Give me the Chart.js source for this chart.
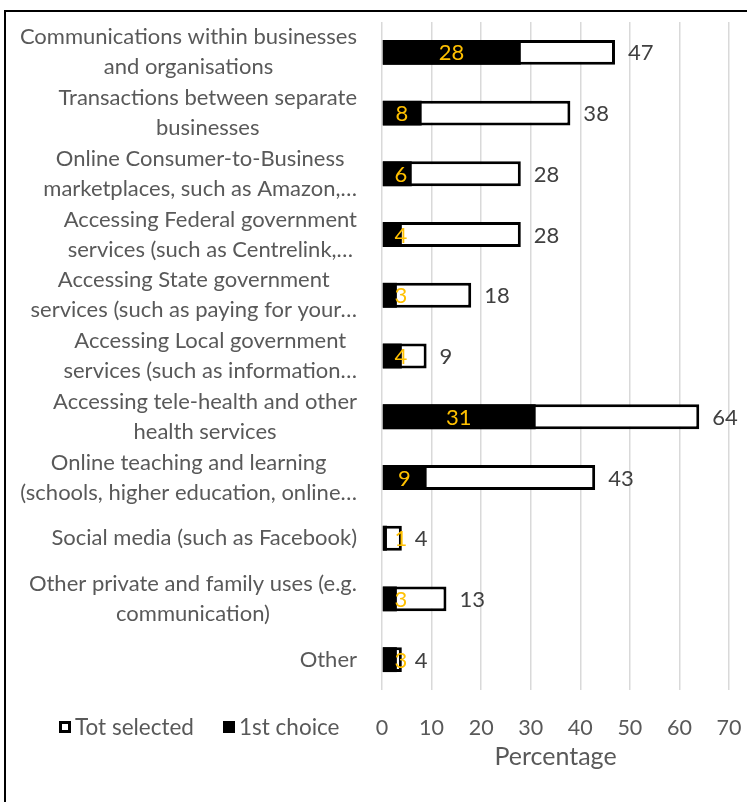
<!DOCTYPE html>
<html lang="en">
<head>
  <meta charset="UTF-8">
  <title>Uses by sector</title>
  <script src="https://cdn.jsdelivr.net/npm/chart.js"></script>
  <style>
    html, body { margin: 0; padding: 0; background: #fff; overflow: hidden; }
    #wrap { position: relative; width: 747px; height: 802px; overflow: hidden; }
    #frame { position: absolute; left: 4px; top: 10px; width: 800px; height: 850px; border: 2px solid #000; box-sizing: border-box; pointer-events: none; }
    canvas { position: absolute; left: 0; top: 0; }
  </style>
</head>
<body>
  <div id="wrap">
    <canvas id="chart" width="747" height="802"></canvas>
    <div id="frame"></div>
  </div>

  <script>
    // Category labels, already broken into the lines they show on
    const categories = [
      ['Communications within businesses', 'and organisations'],
      ['Transactions between separate', 'businesses'],
      ['Online Consumer-to-Business', 'marketplaces, such as Amazon,\u2026'],
      ['Accessing Federal government', 'services (such as Centrelink,\u2026'],
      ['Accessing State government', 'services (such as paying for your\u2026'],
      ['Accessing Local government', 'services (such as information\u2026'],
      ['Accessing tele-health and other', 'health services'],
      ['Online teaching and learning', '(schools, higher education, online\u2026'],
      ['Social media (such as Facebook)'],
      ['Other private and family uses (e.g.', 'communication)'],
      ['Other']
    ];
    const totSelected = [47, 38, 28, 28, 18, 9, 64, 43, 4, 13, 4];
    const firstChoice = [28, 8, 6, 4, 3, 4, 31, 9, 1, 3, 3];
    const xTicks = [0, 10, 20, 30, 40, 50, 60, 70];

    const FONT = 'Lato, "Open Sans", sans-serif';
    const GREY = '#595959';

    // category names: block sits against the axis, lines centred inside the block
    const categoryLabels = {
      id: 'categoryLabels',
      afterDraw(chart) {
        const ctx = chart.ctx;
        const y = chart.scales.y;
        const right = y.right - 25;
        const lineH = 30;
        ctx.save();
        ctx.font = '22px ' + FONT;
        ctx.fillStyle = GREY;
        ctx.textAlign = 'center';
        ctx.textBaseline = 'middle';
        categories.forEach((lines, i) => {
          const cy = y.getPixelForValue(i);
          const w = Math.max(...lines.map(l => ctx.measureText(l).width));
          const cx = right - w / 2;
          const top = cy - (lines.length - 1) * lineH / 2;
          lines.forEach((l, k) => ctx.fillText(l, cx, top + k * lineH));
        });
        ctx.restore();
      }
    };

    // value labels: first choice inside the black bar, total just past the outline
    const valueLabels = {
      id: 'valueLabels',
      afterDatasetsDraw(chart) {
        const ctx = chart.ctx;
        const x0 = chart.scales.x.getPixelForValue(0);
        ctx.save();
        ctx.font = '22px ' + FONT;
        ctx.textBaseline = 'middle';
        chart.getDatasetMeta(1).data.forEach((bar, i) => {
          ctx.fillStyle = '#FFC000';
          ctx.textAlign = 'center';
          ctx.fillText(String(firstChoice[i]), Math.max((bar.x + x0) / 2, x0 + 19), bar.y + 1);
        });
        chart.getDatasetMeta(0).data.forEach((bar, i) => {
          ctx.fillStyle = '#404040';
          ctx.textAlign = 'left';
          ctx.fillText(String(totSelected[i]), bar.x + 13, bar.y + 1);
        });
        ctx.restore();
      }
    };

    // legend in the bottom-left corner, level with the tick labels
    const cornerLegend = {
      id: 'cornerLegend',
      afterDraw(chart) {
        const ctx = chart.ctx;
        const ds = chart.data.datasets;
        const y = 727;
        const items = [{ ds: ds[0], x: 59 }, { ds: ds[1], x: 223 }];
        ctx.save();
        ctx.font = '22.5px ' + FONT;
        ctx.textBaseline = 'middle';
        ctx.textAlign = 'left';
        items.forEach(it => {
          ctx.fillStyle = it.ds.backgroundColor;
          ctx.fillRect(it.x, y - 6, 12, 12);
          if (it.ds.borderWidth) {
            ctx.strokeStyle = it.ds.borderColor;
            ctx.lineWidth = 3;
            ctx.strokeRect(it.x + 1.5, y - 4.5, 9, 9);
          }
          ctx.fillStyle = GREY;
          ctx.fillText(it.ds.label, it.x + 16, y + 1);
        });
        ctx.restore();
      }
    };

    new Chart(document.getElementById('chart'), {
      type: 'bar',
      data: {
        labels: categories,
        datasets: [
          {
            label: 'Tot selected',
            data: totSelected,
            backgroundColor: '#ffffff',
            borderColor: '#000000',
            borderWidth: 3,
            borderSkipped: false,
            grouped: false,
            order: 2
          },
          {
            label: '1st choice',
            data: firstChoice,
            backgroundColor: '#000000',
            borderWidth: 0,
            grouped: false,
            order: 1
          }
        ]
      },
      options: {
        indexAxis: 'y',
        responsive: false,
        animation: false,
        layout: { padding: { top: 22, right: 18, left: 0, bottom: 0 } },
        barPercentage: 0.41,
        categoryPercentage: 1,
        plugins: {
          legend: { display: false },
          tooltip: { enabled: false }
        },
        scales: {
          x: {
            min: 0,
            max: 70,
            afterBuildTicks: s => { s.ticks = xTicks.map(v => ({ value: v })); },
            afterFit: s => { s.height = 112; },
            grid: { color: '#d9d9d9', lineWidth: 1.5, drawTicks: true, tickLength: 25, tickColor: 'rgba(0,0,0,0)' },
            border: { display: false },
            ticks: { color: GREY, font: { family: FONT, size: 21.5 }, padding: 0 },
            title: {
              display: true,
              text: 'Percentage',
              color: GREY,
              font: { family: FONT, size: 25 },
              padding: { top: 0, bottom: 30 }
            }
          },
          y: {
            afterFit: s => { s.width = 382; },
            grid: { display: false },
            border: { display: false },
            ticks: { display: false }
          }
        }
      },
      plugins: [categoryLabels, valueLabels, cornerLegend]
    });
  </script>
</body>
</html>
